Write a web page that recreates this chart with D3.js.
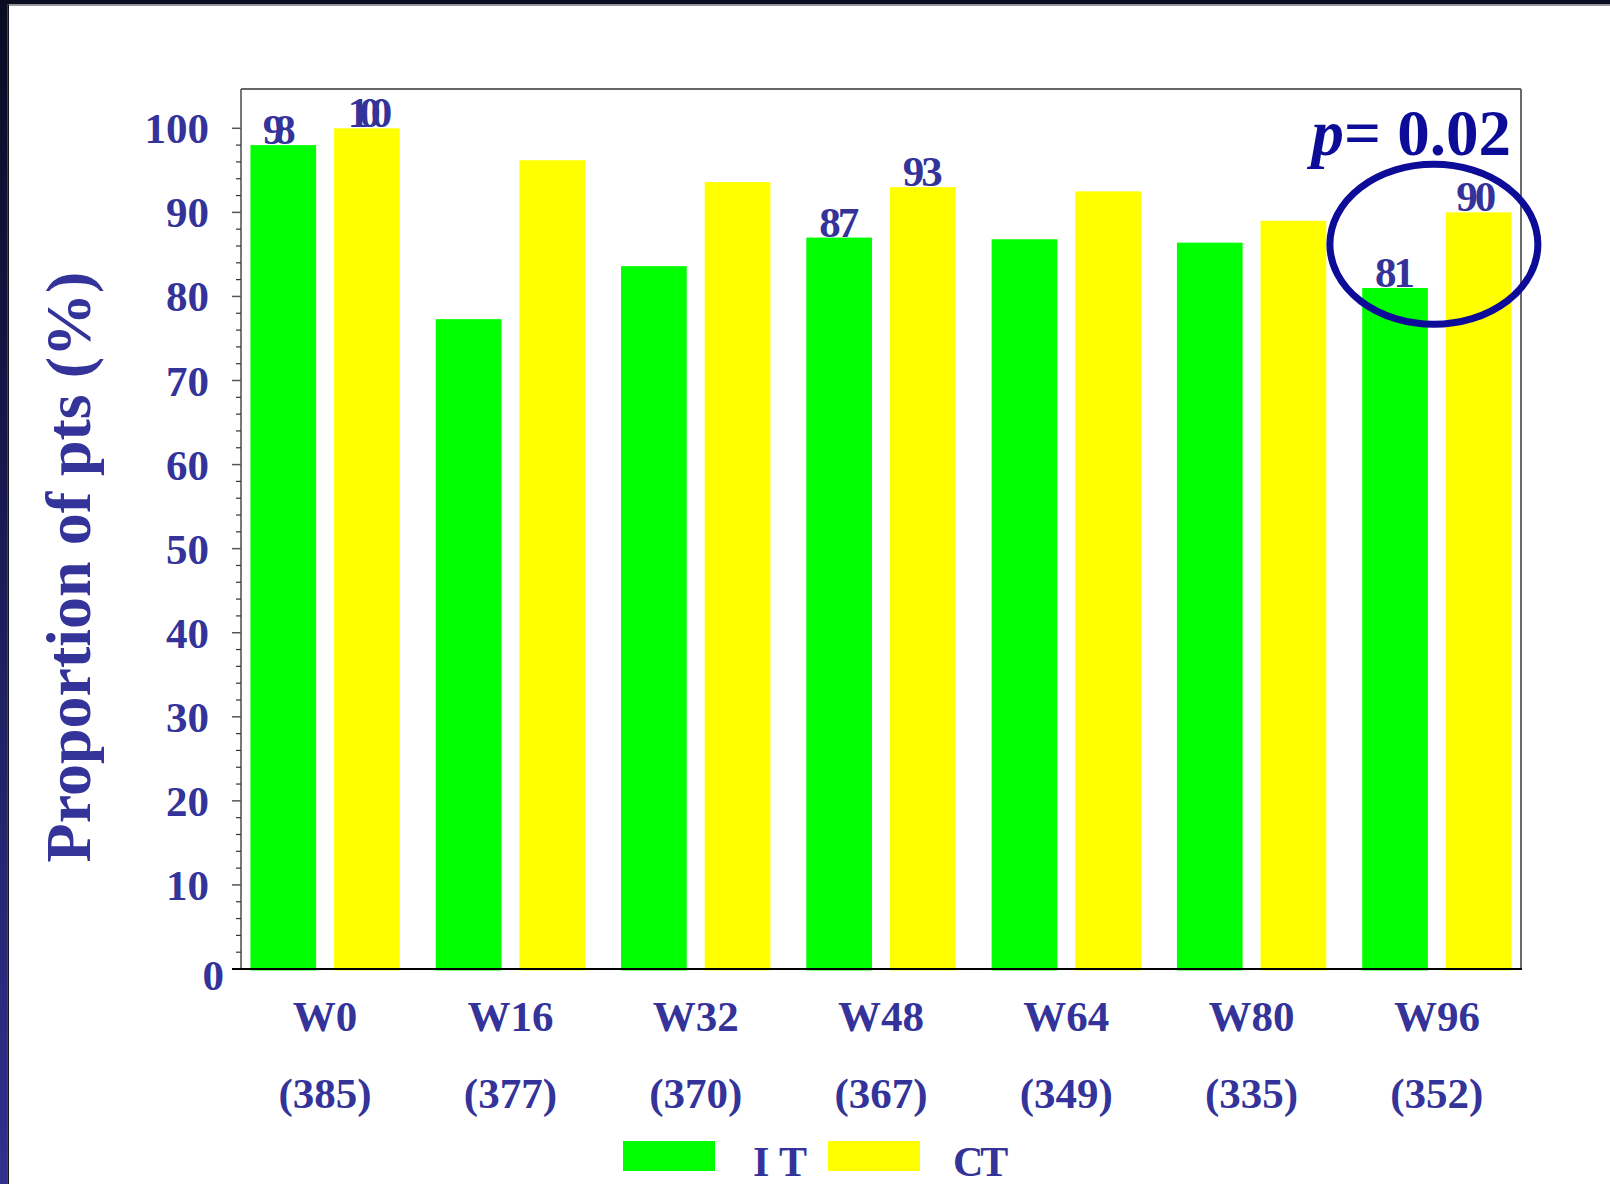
<!DOCTYPE html>
<html>
<head>
<meta charset="utf-8">
<script src="https://cdn.jsdelivr.net/npm/d3@7"></script>
<style>
  html, body { margin: 0; padding: 0; background: #ffffff; }
  svg { display: block; }
  text { font-family: "Liberation Serif", "Times New Roman", serif; font-weight: bold; }
</style>
</head>
<body>
<svg id="chart" width="1610" height="1184"></svg>
<script>
// Visit labels and number of patients at each visit
const weeks = ["W0", "W16", "W32", "W48", "W64", "W80", "W96"];
const patients = [385, 377, 370, 367, 349, 335, 352];

// Proportion of patients (%) per arm
const seriesNames = ["I T", "CT"];
const itValues = [98, 77.3, 83.6, 87, 86.8, 86.4, 81];
const ctValues = [100, 96.2, 93.6, 93, 92.5, 89, 90];

// Which bars carry a printed value
const itLabelled = [true, false, false, true, false, false, true];
const ctLabelled = [true, false, false, true, false, false, true];

// Y axis ticks
const majorTicks = [0, 10, 20, 30, 40, 50, 60, 70, 80, 90, 100];
const minorTicks = d3.range(0, 101, 2);

const pValueText = "0.02";

const TEXT = "#333399";
const NAVY = "#0c0c98";
const GREEN = "#00ff00";
const YELLOW = "#ffff00";

const svg = d3.select("#chart");

// ---- slide frame ----
const defs = svg.append("defs");
const grad = defs.append("linearGradient").attr("id", "sideBand")
  .attr("x1", 0).attr("y1", 0).attr("x2", 0).attr("y2", 1);
grad.append("stop").attr("offset", "0%").attr("stop-color", "#0b0b22");
grad.append("stop").attr("offset", "30%").attr("stop-color", "#141444");
grad.append("stop").attr("offset", "100%").attr("stop-color", "#30308f");

svg.append("rect").attr("x", 0).attr("y", 0).attr("width", 1610).attr("height", 4.5).attr("fill", "#0b0b22");
svg.append("rect").attr("x", 0).attr("y", 0).attr("width", 7.5).attr("height", 1184).attr("fill", "url(#sideBand)");
svg.append("line").attr("x1", 8).attr("x2", 1610).attr("y1", 5.2).attr("y2", 5.2).attr("stroke", "#9a9a9a").attr("stroke-width", 1.5);
svg.append("line").attr("x1", 8.2).attr("x2", 8.2).attr("y1", 4.5).attr("y2", 1184).attr("stroke", "#111111").attr("stroke-width", 1.6);

// ---- scales ----
const plotLeft = 241, plotRight = 1521, plotTop = 89, plotBottom = 969;

const x = d3.scaleBand().domain(weeks)
  .range([plotLeft, plotRight])
  .paddingInner(0.194).paddingOuter(0.051);

const xSub = d3.scaleBand().domain(seriesNames)
  .range([0, x.bandwidth()])
  .paddingInner(0.215).paddingOuter(0);

const y = d3.scaleLinear().domain([0, 100]).range([plotBottom, 128.3]);

const color = d3.scaleOrdinal().domain(seriesNames).range([GREEN, YELLOW]);

// ---- bars ----
const rows = weeks.map((w, i) => ({
  week: w,
  bars: [
    { series: seriesNames[0], value: itValues[i], labelled: itLabelled[i], group: i },
    { series: seriesNames[1], value: ctValues[i], labelled: ctLabelled[i], group: i }
  ]
}));

const groups = svg.append("g").selectAll("g.group")
  .data(rows).join("g")
  .attr("class", "group")
  .attr("transform", d => `translate(${x(d.week)},0)`);

groups.selectAll("rect")
  .data(d => d.bars).join("rect")
  .attr("x", d => xSub(d.series))
  .attr("width", xSub.bandwidth())
  .attr("y", d => y(d.value))
  .attr("height", d => y(0) - y(d.value) + 1.5)
  .attr("fill", d => color(d.series));

// value labels on top of selected bars (the first pair is printed tightly packed)
groups.selectAll("text.value")
  .data(d => d.bars.filter(b => b.labelled)).join("text")
  .attr("class", "value")
  .attr("x", d => xSub(d.series) + xSub.bandwidth() / 2)
  .attr("y", d => y(d.value) - 1)
  .attr("text-anchor", "middle")
  .attr("font-size", 43)
  .attr("fill", TEXT)
  .style("letter-spacing", d => d.group === 0 ? "-10px" : "-3px")
  .attr("dx", d => d.group === 0 ? (d.series === "CT" ? -2 : -9) : (d.group === 6 && d.series === "CT" ? -4 : -1.5))
  .text(d => d3.format("d")(d.value));

// ---- plot frame ----
svg.append("line").attr("x1", plotLeft).attr("x2", plotRight).attr("y1", plotTop).attr("y2", plotTop)
  .attr("stroke", "#333333").attr("stroke-width", 1.5);
svg.append("line").attr("x1", plotRight).attr("x2", plotRight).attr("y1", plotTop).attr("y2", plotBottom)
  .attr("stroke", "#6a6a6a").attr("stroke-width", 2);

// ---- y axis ----
const yAxis = svg.append("g");
yAxis.append("line").attr("x1", plotLeft).attr("x2", plotLeft).attr("y1", plotTop).attr("y2", plotBottom)
  .attr("stroke", "#555555").attr("stroke-width", 1.6);
yAxis.selectAll("line.minor").data(minorTicks.filter(t => t % 10 !== 0)).join("line")
  .attr("class", "minor")
  .attr("x1", plotLeft - 5).attr("x2", plotLeft)
  .attr("y1", d => y(d)).attr("y2", d => y(d))
  .attr("stroke", "#333333").attr("stroke-width", 1.2);
yAxis.selectAll("line.major").data(majorTicks).join("line")
  .attr("class", "major")
  .attr("x1", plotLeft - 9).attr("x2", plotLeft)
  .attr("y1", d => y(d)).attr("y2", d => y(d))
  .attr("stroke", "#555555").attr("stroke-width", 1.5);
yAxis.selectAll("text").data(majorTicks).join("text")
  .attr("x", d => d === 0 ? 224 : 209)
  .attr("y", d => y(d) + (d === 0 ? 6 : 0))
  .attr("dy", "0.35em")
  .attr("text-anchor", "end")
  .attr("font-size", 43)
  .attr("fill", TEXT)
  .text(d => d);

// ---- x axis ----
svg.append("line").attr("x1", plotLeft - 9).attr("x2", plotRight + 1).attr("y1", plotBottom).attr("y2", plotBottom)
  .attr("stroke", "#000000").attr("stroke-width", 1.8);

const xLabels = svg.append("g");
xLabels.selectAll("text.week").data(weeks).join("text")
  .attr("class", "week")
  .attr("x", d => x(d) + x.bandwidth() / 2)
  .attr("y", 1031)
  .attr("text-anchor", "middle")
  .attr("font-size", 43)
  .attr("fill", TEXT)
  .text(d => d);
xLabels.selectAll("text.n").data(weeks).join("text")
  .attr("class", "n")
  .attr("x", d => x(d) + x.bandwidth() / 2)
  .attr("y", 1108)
  .attr("text-anchor", "middle")
  .attr("font-size", 43)
  .attr("fill", TEXT)
  .text((d, i) => `(${patients[i]})`);

// ---- y axis title ----
svg.append("text")
  .attr("transform", `translate(90, ${(272 + 862) / 2}) rotate(-90)`)
  .attr("text-anchor", "middle")
  .attr("font-size", 64)
  .attr("fill", TEXT)
  .text("Proportion of pts (%)");

// ---- p-value annotation ----
const pText = svg.append("text")
  .attr("x", 1511).attr("y", 155)
  .attr("text-anchor", "end")
  .attr("font-size", 65)
  .attr("fill", NAVY);
pText.append("tspan").attr("font-style", "italic").text("p");
pText.append("tspan").text("= " + pValueText);

svg.append("ellipse")
  .attr("cx", x("W96") + x.bandwidth() / 2 - 3)
  .attr("cy", y(86.2))
  .attr("rx", 104).attr("ry", 80)
  .attr("fill", "none")
  .attr("stroke", NAVY)
  .attr("stroke-width", 7);

// ---- legend ----
const legendX = [623, 828];
const legend = svg.append("g").selectAll("g").data(seriesNames).join("g")
  .attr("transform", (d, i) => `translate(${legendX[i]},1141)`);
legend.append("rect").attr("width", 92).attr("height", 30).attr("fill", d => color(d));
legend.append("text")
  .attr("x", d => d === "CT" ? 125 : 130).attr("y", 35)
  .attr("font-size", 42)
  .attr("fill", TEXT)
  .style("letter-spacing", d => d === "CT" ? "-3px" : "0px")
  .text(d => d);
</script>
</body>
</html>
